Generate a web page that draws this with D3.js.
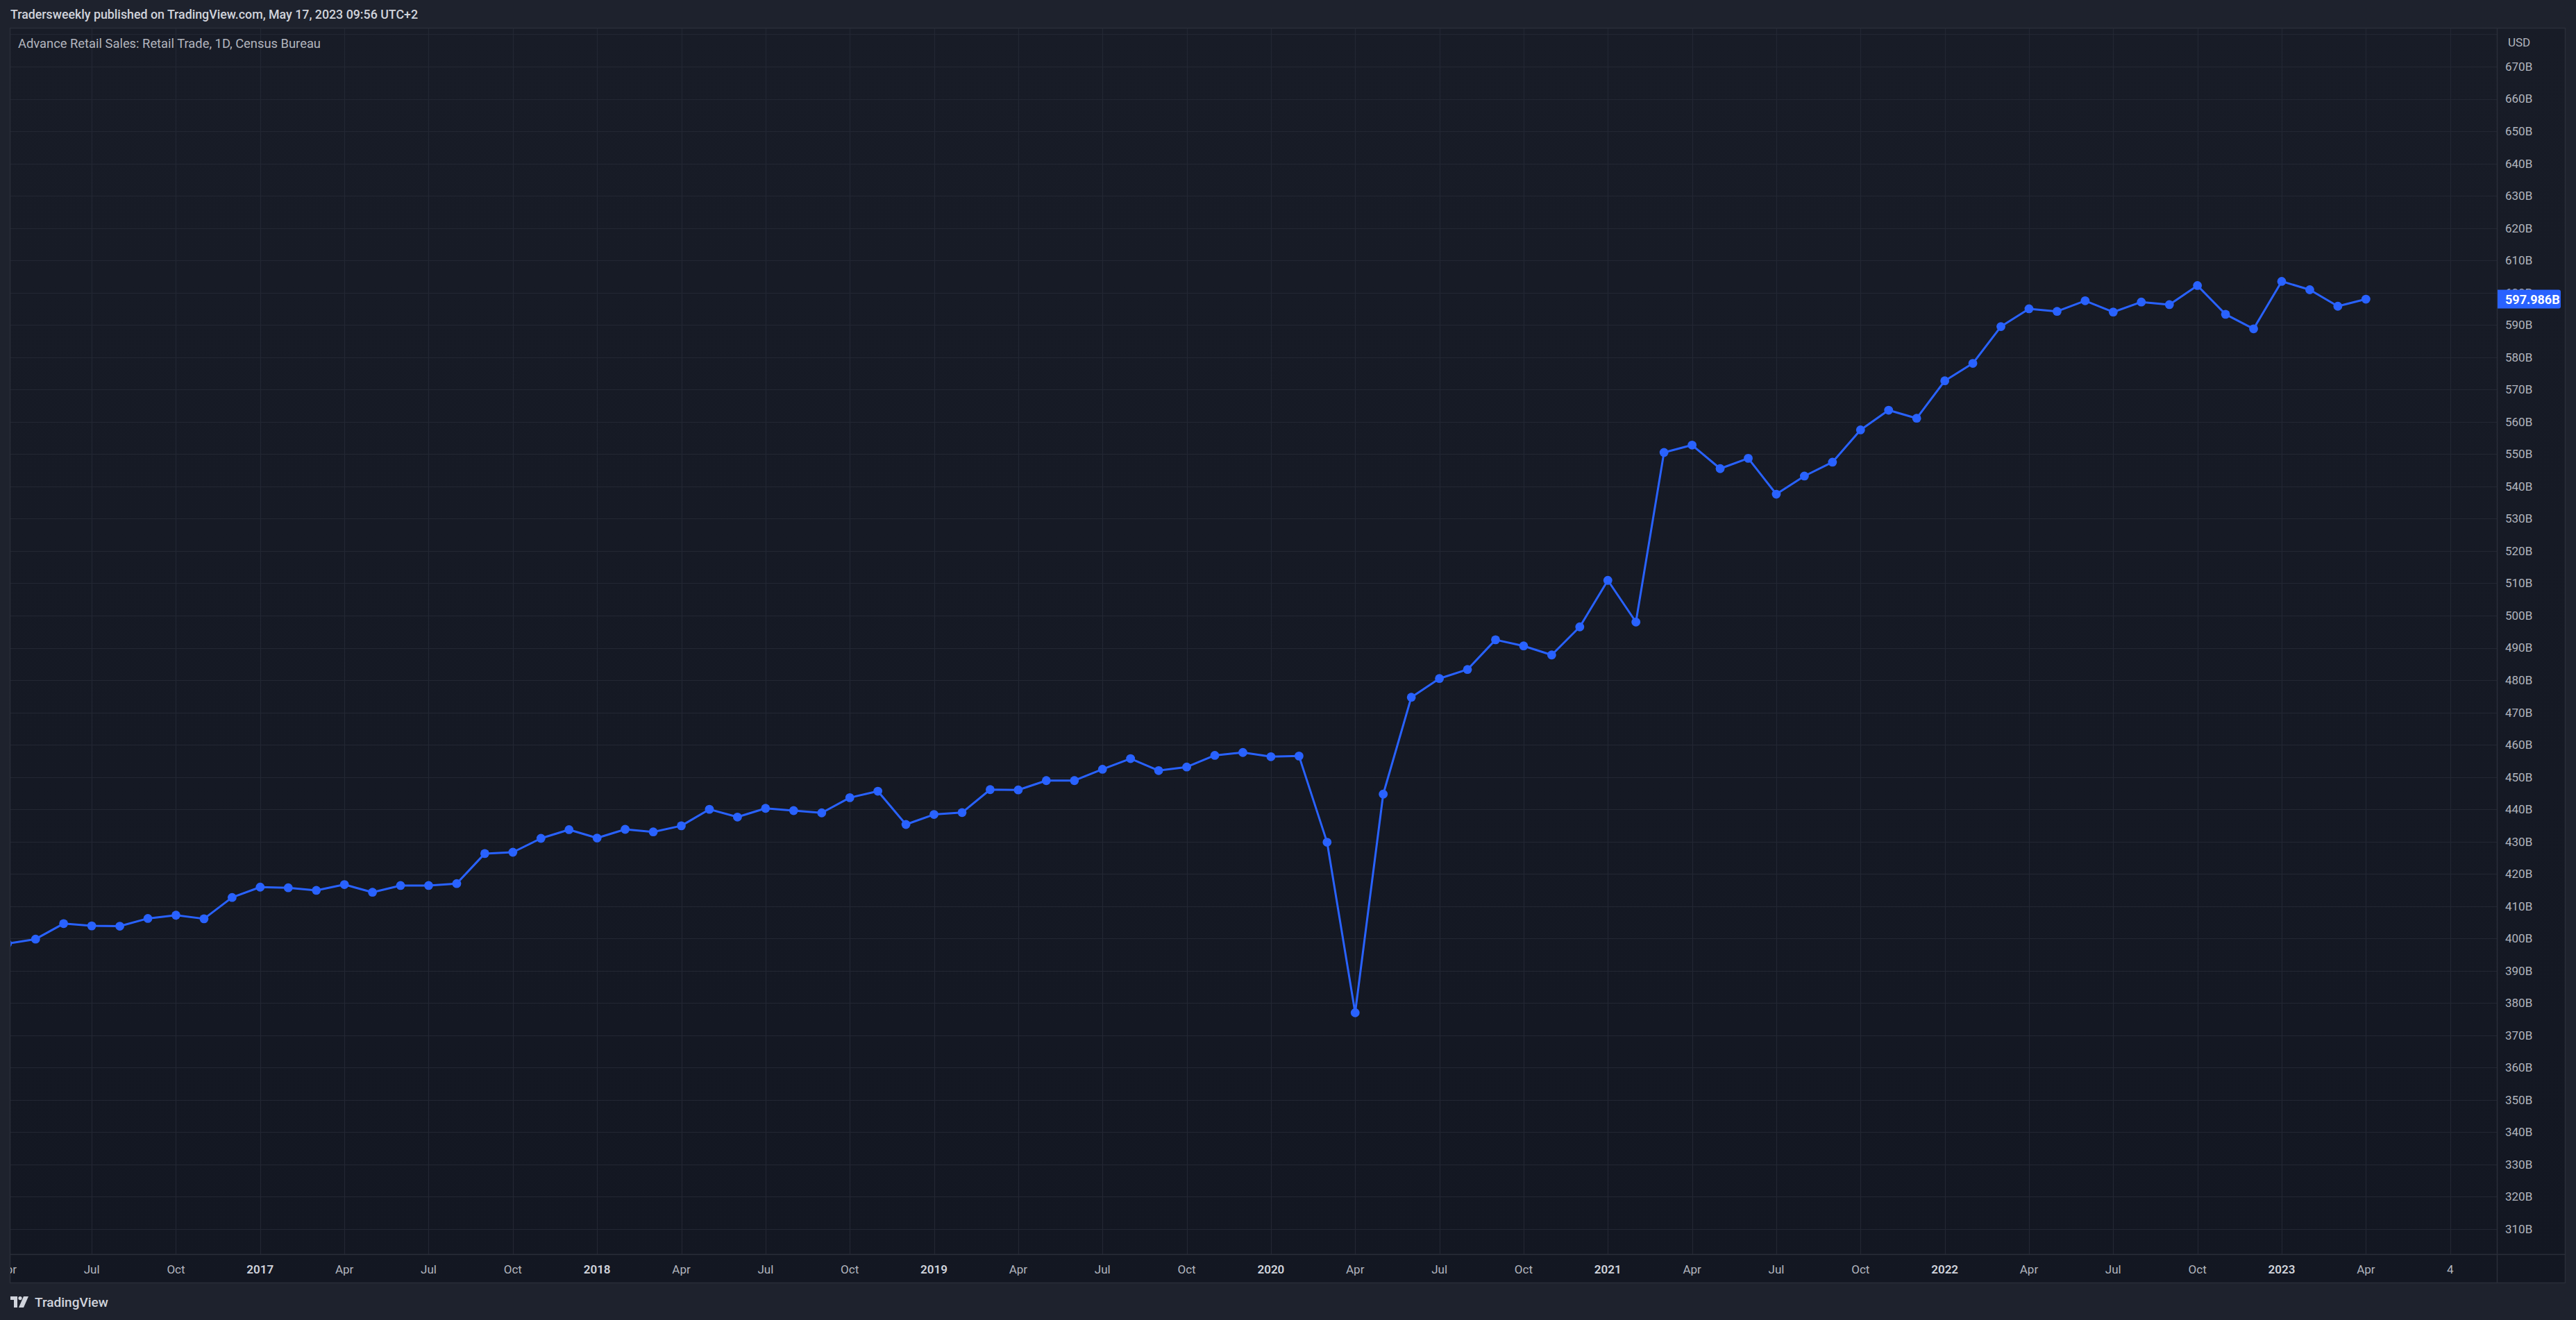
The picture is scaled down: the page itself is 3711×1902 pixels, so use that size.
<!DOCTYPE html>
<html><head><meta charset="utf-8">
<script src="https://cdn.jsdelivr.net/npm/d3@7"></script>
<style>html,body{margin:0;padding:0;background:#1e222d;overflow:hidden}</style>
</head><body><svg id="c" width="3711" height="1902"></svg>
<script>
// ---- data (monthly, billions USD) ----
const months = [
  "2016-04","2016-05","2016-06","2016-07","2016-08","2016-09","2016-10","2016-11","2016-12",
  "2017-01","2017-02","2017-03","2017-04","2017-05","2017-06","2017-07","2017-08","2017-09","2017-10","2017-11","2017-12",
  "2018-01","2018-02","2018-03","2018-04","2018-05","2018-06","2018-07","2018-08","2018-09","2018-10","2018-11","2018-12",
  "2019-01","2019-02","2019-03","2019-04","2019-05","2019-06","2019-07","2019-08","2019-09","2019-10","2019-11","2019-12",
  "2020-01","2020-02","2020-03","2020-04","2020-05","2020-06","2020-07","2020-08","2020-09","2020-10","2020-11","2020-12",
  "2021-01","2021-02","2021-03","2021-04","2021-05","2021-06","2021-07","2021-08","2021-09","2021-10","2021-11","2021-12",
  "2022-01","2022-02","2022-03","2022-04","2022-05","2022-06","2022-07","2022-08","2022-09","2022-10","2022-11","2022-12",
  "2023-01","2023-02","2023-03","2023-04"
];
const sales = [
  398.4,399.8,404.6,403.9,403.8,406.2,407.2,406.1,412.7,
  415.9,415.7,414.9,416.7,414.3,416.4,416.4,417.0,426.3,426.7,431.0,433.7,
  431.1,433.8,433.0,434.9,440.0,437.6,440.3,439.6,438.9,443.6,445.6,435.3,
  438.4,439.0,446.1,446.0,448.9,448.9,452.4,455.7,452.0,453.1,456.7,457.6,
  456.3,456.5,429.8,377.0,444.7,474.7,480.5,483.3,492.5,490.6,487.8,496.5,
  510.9,498.0,550.5,552.8,545.5,548.7,537.6,543.2,547.5,557.5,563.6,561.1,
  572.7,578.1,589.5,595.0,594.2,597.5,594.0,597.1,596.3,602.2,593.3,588.8,
  603.5,600.9,595.8,597.986
];
const tickMonths = [
  "2016-04","2016-07","2016-10","2017-01","2017-04","2017-07","2017-10","2018-01","2018-04","2018-07","2018-10",
  "2019-01","2019-04","2019-07","2019-10","2020-01","2020-04","2020-07","2020-10","2021-01","2021-04","2021-07","2021-10",
  "2022-01","2022-04","2022-07","2022-10","2023-01","2023-04","2023-07"
];
const tickLabels = [
  "Apr","Jul","Oct","2017","Apr","Jul","Oct","2018","Apr","Jul","Oct",
  "2019","Apr","Jul","Oct","2020","Apr","Jul","Oct","2021","Apr","Jul","Oct",
  "2022","Apr","Jul","Oct","2023","Apr","4"
];
const priceTicks = [310,320,330,340,350,360,370,380,390,400,410,420,430,440,450,460,470,480,490,500,
  510,520,530,540,550,560,570,580,590,600,610,620,630,640,650,660,670,680];
const lastValue = 597.986;
const headerText = "Tradersweekly published on TradingView.com, May 17, 2023 09:56 UTC+2";
const legendText = "Advance Retail Sales: Retail Trade, 1D, Census Bureau";

// ---- layout ----
const W = 3711, H = 1902;
const plot = {x0: 15, x1: 3597, y0: 41, y1: 1807};
const axisRight = 3695, axisBottom = 1848;
const font = "Roboto, 'Noto Sans', sans-serif";

const svg = d3.select("#c");
const defs = svg.append("defs");
const grad = defs.append("linearGradient").attr("id","bg").attr("x1",0).attr("y1",0).attr("x2",0).attr("y2",1);
grad.append("stop").attr("offset","0%").attr("stop-color","#181c27");
grad.append("stop").attr("offset","100%").attr("stop-color","#131722");
defs.append("clipPath").attr("id","clip").append("rect")
  .attr("x",plot.x0).attr("y",plot.y0).attr("width",plot.x1-plot.x0).attr("height",plot.y1-plot.y0);
defs.append("clipPath").attr("id","tclip").append("rect")
  .attr("x",plot.x0).attr("y",plot.y1).attr("width",plot.x1-plot.x0).attr("height",axisBottom-plot.y1);

svg.append("rect").attr("width",W).attr("height",H).attr("fill","#1e222d");
svg.append("rect").attr("x",plot.x0).attr("y",plot.y0).attr("width",axisRight-plot.x0).attr("height",axisBottom-plot.y0)
  .attr("fill","url(#bg)");

const mIdx = s => (+s.slice(0,4) - 2016) * 12 + (+s.slice(5,7) - 1);
const x = d3.scaleLinear().domain([mIdx("2017-01"), mIdx("2023-01")]).range([374.8, 3287]);
const y = d3.scaleLinear().domain([310, 670]).range([1771, 96]);

// grid
const grid = svg.append("g").attr("clip-path","url(#clip)");
grid.selectAll("line.h").data(priceTicks).join("line")
  .attr("x1",plot.x0).attr("x2",plot.x1).attr("y1",d=>Math.round(y(d))+0.5).attr("y2",d=>Math.round(y(d))+0.5)
  .attr("stroke","#232733").attr("stroke-width",1.2);
grid.selectAll("line.v").data(tickMonths).join("line")
  .attr("y1",plot.y0).attr("y2",plot.y1).attr("x1",d=>Math.round(x(mIdx(d)))+0.5).attr("x2",d=>Math.round(x(mIdx(d)))+0.5)
  .attr("stroke","#232733").attr("stroke-width",1.2);

// series
const pts = months.map((m,i)=>({x:x(mIdx(m)), y:y(sales[i])}));
const g = svg.append("g").attr("clip-path","url(#clip)");
g.append("path").datum(pts).attr("fill","none").attr("stroke","#2962ff").attr("stroke-width",3)
  .attr("stroke-linejoin","round").attr("d", d3.line().x(d=>d.x).y(d=>d.y));
g.selectAll("circle").data(pts).join("circle").attr("cx",d=>d.x).attr("cy",d=>d.y).attr("r",6.4).attr("fill","#2962ff");

// frame lines
const frame = svg.append("g").attr("stroke","#2a2e39").attr("stroke-width",1.5).attr("fill","none");
frame.append("rect").attr("x",plot.x0-0.5).attr("y",plot.y0-0.5).attr("width",axisRight-plot.x0+1).attr("height",axisBottom-plot.y0+1);
frame.append("line").attr("x1",plot.x1+0.5).attr("x2",plot.x1+0.5).attr("y1",plot.y0).attr("y2",axisBottom);
frame.append("line").attr("x1",plot.x0).attr("x2",axisRight).attr("y1",plot.y1+0.5).attr("y2",plot.y1+0.5);

// price axis labels
const ya = svg.append("g").attr("font-family",font).attr("font-size",17).attr("fill","#b2b5be");
ya.selectAll("text").data(priceTicks.filter(v=>v<=670)).join("text")
  .attr("x",3609).attr("y",d=>y(d)).attr("dy","0.35em").text(d=>d+"B");
ya.append("text").attr("x",3613).attr("y",61).attr("dy","0.35em").text("USD");

// last value label
const ly = y(lastValue);
svg.append("path").attr("fill","#2962ff")
  .attr("d",`M${plot.x1+1},${ly-13.5} H3686 Q3689,${ly-13.5} 3689,${ly-10.5} V${ly+10.5} Q3689,${ly+13.5} 3686,${ly+13.5} H${plot.x1+1} Z`);
svg.append("text").attr("x",3609).attr("y",ly).attr("dy","0.36em").attr("font-family",font)
  .attr("font-size",18).attr("font-weight",700).attr("fill","#ffffff").text(d3.format(".3f")(lastValue)+"B");

// time axis labels
const ta = svg.append("g").attr("clip-path","url(#tclip)").attr("font-family",font).attr("font-size",17).attr("text-anchor","middle");
ta.selectAll("text").data(tickMonths).join("text")
  .attr("x",d=>x(mIdx(d))).attr("y",1829).attr("dy","0.35em")
  .attr("fill",(d,i)=>/^\d{4}$/.test(tickLabels[i])?"#d1d4dc":"#b2b5be")
  .attr("font-weight",(d,i)=>/^\d{4}$/.test(tickLabels[i])?600:400)
  .text((d,i)=>tickLabels[i]);

// header / legend
svg.append("text").attr("x",15).attr("y",21).attr("dy","0.35em").attr("font-family",font).attr("font-size",18)
  .attr("font-weight",500).attr("fill","#d1d4dc").attr("textLength",587).attr("lengthAdjust","spacingAndGlyphs").text(headerText);
svg.append("text").attr("x",26).attr("y",63).attr("dy","0.35em").attr("font-family",font).attr("font-size",18)
  .attr("fill","#b2b5be").attr("textLength",436).attr("lengthAdjust","spacingAndGlyphs").text(legendText);

// footer logo
const logo = svg.append("g").attr("fill","#d1d4dc").attr("transform","translate(15,1868)");
logo.append("path").attr("d","M0,0 H10 V16 H5 V5 H0 Z");
logo.append("circle").attr("cx",14).attr("cy",2.6).attr("r",2.6);
logo.append("path").attr("d","M19,0 H26 L19,16 H12 Z");
svg.append("text").attr("x",50).attr("y",1876).attr("dy","0.35em").attr("font-family",font).attr("font-size",19)
  .attr("font-weight",500).attr("fill","#d1d4dc").text("TradingView");
</script></body></html>
